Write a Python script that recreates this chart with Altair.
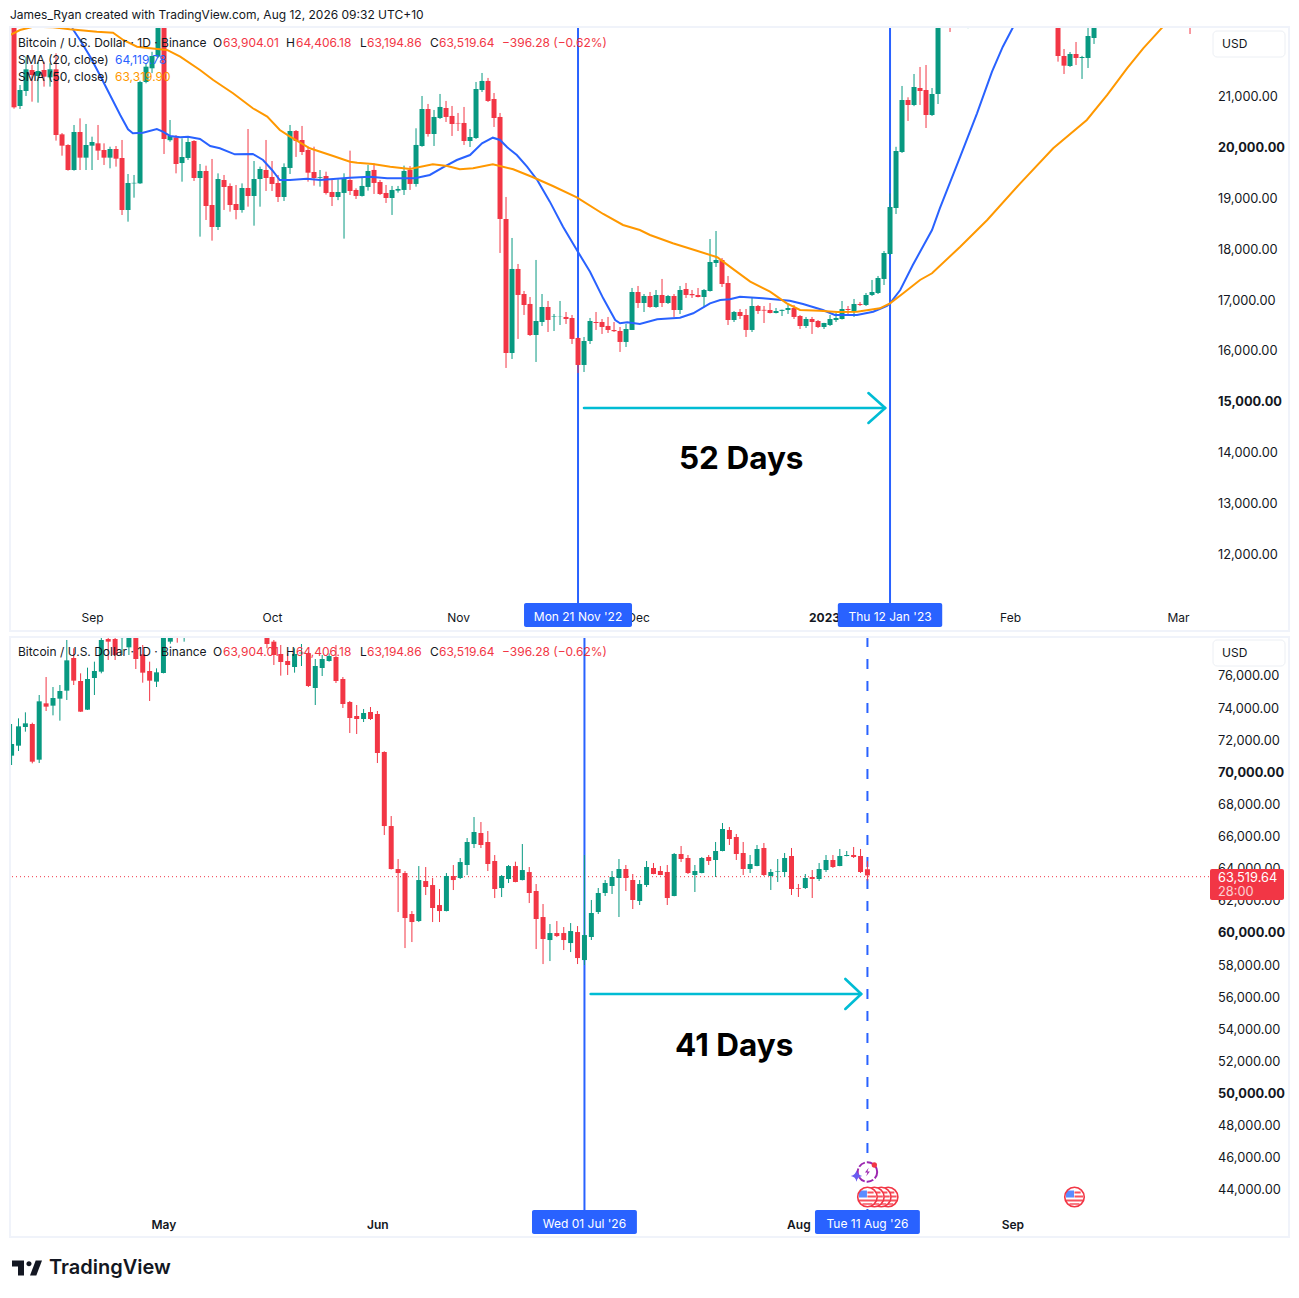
import altair as alt
import pandas as pd

FONT = "Inter"
GREEN, RED, BLUE, ORANGE, CYAN, INK = "#089981", "#f23645", "#2962ff", "#ff9800", "#00bcd4", "#131722"

# rows are (open, high, low, close)
btc22_aug = [(23200,23250,20750,20777),(20803,21216,20744,21118),(21098,21774,21000,21525),(21512,21610,20888,21413),
 (21394,21676,20869,21492),(21512,21676,21184,21380),(21367,21643,21184,21525),(21525,21840,20121,20232),
 (20245,20270,19825,20022),(20035,20050,19530,19543),(19543,20429,19530,20291),(20291,20560,19543,19786),(19786,20449,19543,20035)]
btc22_sep = [(20022,20199,19543,20094),(20068,20429,19740,19924),(19937,20068,19642,19786),(19786,20002,19576,19957),
 (19957,20015,19609,19766),(19779,20134,18657,18756),(18756,19464,18526,19287),(19280,19445,18998,19290),
 (19280,21300,19270,21275),(21275,21650,21250,21577),(21545,21870,21450,21787),(21774,22800,21750,22400),
 (22400,22800,19858,20153),(20130,20527,20100,20212),(20186,20230,19477,19661),(19680,20167,19313,19799),
 (19779,20199,19740,20094),(20114,20130,19327,19386),(19386,19661,18231,19523),(19523,19628,18559,18834),
 (18854,19760,18152,18421),(18421,19477,18362,19366),(19346,19445,18756,19208),(19228,19280,18723,18854),
 (18874,19248,18572,18756),(18756,19280,18703,19189),(19189,20350,18821,19031),(19031,19720,18447,19366),
 (19366,19609,18821,19563),(19543,20134,19130,19386)]
btc22_oct = [(19405,19720,19130,19268),(19287,19445,18913,19012),(19012,19674,18933,19602),(19583,20429,19464,20311),
 (20311,20330,19800,20114),(20134,20410,19838,19897),(19937,20002,19313,19490),(19504,20002,19235,19386),
 (19390,19543,19215,19405),(19425,19510,19060,19090),(19110,19360,18834,19012),(19012,19360,18950,19110),
 (19091,19478,18192,19366),(19347,19924,19051,19130),(19150,19183,18973,19032),(19032,19399,19020,19229),
 (19209,19642,19137,19524),(19544,19675,19071,19288),(19307,19347,19051,19071),(19091,19248,18894,18992),
 (18992,19229,18658,19150),(19137,19229,19097,19170),(19150,19629,19051,19524),(19544,19620,19150,19268),
 (19268,20364,19215,20036),(20016,21000,20000,20744),(20744,20843,20200,20252),(20252,20725,20016,20587),
 (20567,21040,20548,20784),(20764,20902,20488,20587),(20607,20803,20213,20449)]
btc22_nov = [(20469,20666,20311,20459),(20469,20784,20036,20114),(20114,20351,19996,20193),(20173,21276,20154,21138),
 (21118,21453,21079,21296),(21296,21355,20882,20902),(20941,21059,20390,20567),(20587,20666,17910,18579),
 (18579,19012,15646,15941),(15941,18205,15823,17595),(17595,17693,16217,17083),(17102,17162,16689,16886),
 (16906,17043,16275,16295),(16295,17772,15764,16571),(16551,17102,16472,16846),(16846,16965,16354,16591),
 (16650,16709,16374,16660),(16650,16965,16492,16655),(16650,16748,16512,16610),(16630,16689,16118,16217),
 (16236,16250,15547,15705),(15705,16256,15567,16177),(16177,16630,16118,16571),(16551,16748,16394,16531),
 (16551,16610,16315,16453),(16473,16650,16335,16394),(16394,16551,16355,16370),(16374,16453,15961,16158),
 (16158,16512,16059,16413),(16394,17221,16394,17142)]
btc22_dec = [(17142,17260,16827,16925),(16925,17102,16748,17063),(17063,17142,16830,16846),(16846,17181,16830,17083),
 (17083,17398,16846,16925),(16925,17083,16905,17063),(17063,17102,16650,16787),(16787,17260,16708,17181),
 (17201,17319,17024,17083),(17102,17181,17024,17078),(17083,17220,17035,17043),(17043,17201,16846,17181),
 (17161,18185,17150,17732),(17712,18342,17634,17772),(17772,17811,17240,17299),(17319,17457,16492,16590),
 (16590,16768,16551,16748),(16748,16807,16610,16669),(16689,16807,16256,16394),(16394,17024,16354,16866),
 (16866,16886,16709,16768),(16790,16866,16531,16775),(16787,16925,16720,16728),(16728,16827,16720,16768),
 (16770,16795,16669,16790),(16787,16905,16709,16827),(16827,16886,16610,16650),(16669,16689,16413,16472),
 (16472,16650,16433,16610),(16610,16650,16315,16551),(16571,16590,16433,16453)]
btc23_jan = [(16453,16535,16413,16531),(16492,16689,16472,16610),(16590,16728,16551,16630),(16610,16964,16600,16807),
 (16807,16866,16709,16787),(16768,17004,16650,16905),(16905,16945,16866,16886),(16886,17122,16866,17083),
 (17083,17378,17063,17142),(17122,17457,17102,17417),(17398,17949,17279,17909),(17889,19080,17870,18815),
 (18795,20000,18677,19917),(19897,21197,19878,20921),(20921,20974,20508,20823),(20823,21433,20800,21177),
 (21157,21571,20823,21098),(21118,21610,20370,20626),(20626,21157,20606,21039),(21039,22800,20842,22700)]
btc23_jan22 = [(22780,23000,22260,22700)]
btc23_jan25 = [(22600,23800,22335,23050)]
btc23_feb = [(22960,23000,21676,21787),(21787,21925,21433,21597),(21590,21866,21571,21827),(21827,22063,21610,21748),
 (21748,21790,21335,21768),(21748,22340,21551,22181),(22142,24300,22024,24000)]
btc23_mar = [(23470,23500,22220,22500),(22500,22600,22350,22400)]

sma20_day = [9.7,11,12.7,14.3,16,17.7,19,19.8,21.5,23.8,24.8,26,27.7,29,31,32.7,34.3,36.8,39.8,41.5,43,44.3,46,48.8,51,53.2,56,59.3,62.2,66.8,69.3,71.5,73.8,76,78,79.8,81,82.2,83.8,85.5,87.2,89.3,91.5,93.8,96,98.2,100.2,101,102.2,104.3,107.2,111,113.2,116,117.7,119.3,121,124.8,129.3,131.5,134.8,136.8,140.5,143.2,145.5,146,147.7,149.8,153,154.3,157.7,160.5,163,164.8,166.5,167.7]
sma20_val = [22333,22102,21774,21413,21020,20626,20344,20266,20278,20350,20297,20213,20187,20199,20154,20016,19970,19852,19858,19740,19543,19346,19346,19372,19346,19366,19392,19412,19380,19380,19445,19596,19740,19838,20069,20179,20134,19990,19838,19608,19346,18920,18427,17968,17541,17017,16590,16525,16545,16512,16604,16636,16722,16919,16984,16998,17049,17017,16970,16905,16787,16689,16689,16754,16866,16919,17181,17673,18362,18789,19805,20659,21478,21970,22352,22500]
sma50_day = [-0.6,1,3.2,6.5,9.3,13.8,16.5,18.2,20.5,22.7,25.5,27.7,31,33.2,36.5,39.8,42.2,44.3,46,49.3,53.2,56,57.2,59.8,62.7,66,69.8,72.2,74.3,76.5,79.8,83.2,86.5,89.8,93.8,98.2,101.5,104.3,106,109.8,113.8,117.2,119.3,122.7,126,128.8,131,134.3,137.2,140.5,144.3,146,148.2,151,153,157.7,162.2,167.7,173.2,178.8,182.2,185.5,188.2,191.5,192.7]
sma50_val = [22201,22299,22364,22352,22313,22266,22246,22102,21970,21939,21906,21774,21512,21315,21053,20758,20593,20331,20199,19970,19819,19707,19687,19661,19608,19563,19655,19622,19557,19577,19655,19557,19400,19228,19006,18677,18461,18362,18264,18100,17955,17825,17640,17345,17148,16919,16787,16774,16748,16754,16821,16919,17116,17378,17510,18033,18559,19281,19970,20528,21020,21545,21939,22364,22496]

btc26_apr = [(70976,72948,70395,71702),(71599,73301,71267,72803),(72761,73675,72470,72990),(72948,73031,70498,70602),
 (70727,74754,70519,74360),(74235,75875,73758,74028),(74090,75252,73488,74567),(74526,75377,73156,75003),
 (75024,78180,74443,76913),(77059,77661,75377,75647),(75626,76104,73700,73716),(73841,76457,73820,75751),
 (75813,76830,74754,76249),(76207,78600,76104,78180),(78242,78500,76934,78076),(78242,78430,76934,77245),
 (78300,79500,77245,79000),(77723,78800,77245,78387),(78500,78900,76373,76996),(77287,77868,75522,76145),
 (76249,76830,74381,75647),(75585,76415,75252,76166)]
btc26_may_a = [(76124,78500,76100,78325),(78076,78600,77951,78387),(78430,78700,78013,78325),(78366,78700,78076,78430)]
btc26_may_b = [(78500,78800,77661,77930),(78076,78180,76623,77245),(77308,77868,75958,76809),(76872,77349,76000,76623),
 (76498,77661,76145,77308),(77350,77930,76560,77390),(77349,77450,75252,75315),(75190,76996,74131,76560),
 (76436,77245,75937,76996),(76872,77349,76830,77183),(77121,77868,75501,75626),(75751,75875,73945,74194),
 (74318,74380,72387,73322),(73446,74131,72325,73260),(73260,73883,73073,73633),(73695,74007,73197,73260)]
btc26_jun = [(73571,73758,70519,71142),(71204,71250,66035,66595),(66595,67218,63890,63917),(63917,64540,61239,63668),
 (63668,63790,58997,60866),(61115,61302,59371,60617),(60679,64104,60617,63232),(63170,64042,62298,62797),
 (62921,63357,60617,61489),(61675,62672,60617,61302),(61302,63668,61280,63482),(63482,64166,62610,63232),
 (63357,64602,63295,64353),(64167,65848,63544,65599),(65474,67156,65225,66222),(66160,66845,65225,65412),
 (65599,66284,63793,64229),(64416,64789,62111,62672),(62734,63544,62173,63482),(63295,64166,63046,64104),
 (64104,64375,63090,63108),(63232,65475,63210,63855),(63730,64042,61800,62423),(62548,62984,58935,60804),
 (60928,61738,58000,59558),(59496,60492,58187,59932),(59932,60679,59682,59745),(59932,60305,58873,59496),
 (59309,60554,58748,60056),(59994,60367,58000,58375)]
btc26_jul = [(58250,64789,57938,59807),(59684,61989,59498,61179),(61241,62736,61117,62425),(62425,63234,62238,63048),
 (62861,63795,62363,63421),(63359,64542,60930,63919),(63919,64169,62549,63359),(63234,63608,61428,61989),
 (61927,63234,61677,62985),(62923,64418,62798,64044),(63982,64293,63590,63608),(63795,64106,63530,63546),
 (63733,64169,61677,62113),(62238,64916,62220,64854),(64854,65352,64355,64542),(64604,64791,63608,63670),
 (63546,64169,62487,63795),(63670,64667,63650,64604),(64667,64791,64169,64418),(64480,65601,63421,65040),
 (65040,66784,65020,66411),(66348,66535,65414,65788),(65912,66099,64480,64854),(64916,65601,63546,63919),
 (63919,64791,63670,64231),(64106,65414,64090,65165),(65227,65539,63483,63546),(63483,63919,62612,63733),
 (63760,64542,63110,63795),(63733,64916,63421,64604),(64729,65227,62300,62674)]
btc26_aug = [(62736,62985,62176,62695),(62736,63608,62674,63359),(63421,63857,62113,63297),(63297,64293,63172,63919),
 (63857,64791,63733,64480),(64480,64791,63982,64044),(64106,65165,64090,64729),(64729,65040,64710,64791),
 (64791,65290,64605,64667),(64729,65165,63670,63733),(63904.01,64406.18,63194.86,63519.64)]

p1_ticks = [12000,13000,14000,15000,16000,17000,18000,19000,20000,21000]
p2_ticks = list(range(44000,76001,2000))
p1_months = ["2022-09-01","2022-10-01","2022-11-01","2022-12-01","2023-01-01","2023-02-01","2023-03-01"]
p2_months = ["2026-05-01","2026-06-01","2026-08-01","2026-09-01"]
flag_dates = ["2026-08-14","2026-08-13","2026-08-12","2026-08-11","2026-09-10"]


def iso(ts):
    return pd.Timestamp(ts).strftime("%Y-%m-%dT%H:%M:%SZ")


def ms(ts):
    return pd.Timestamp(ts).value / 1e6


def candles(segments):
    rows = []
    for start, seg in segments:
        for i, (o, h, l, c) in enumerate(seg):
            rows.append(dict(date=iso(pd.Timestamp(start) + pd.Timedelta(days=i)), o=o, h=h, l=l, c=c,
                             dir="up" if c >= o else "down"))
    return pd.DataFrame(rows)


def label(t, x, y, color=INK, size=12, weight=400, align="left", opacity=1):
    return alt.Chart(pd.DataFrame({"t": [t]})).mark_text(
        text=t, font=FONT, fontSize=size, fontWeight=weight, align=align, baseline="middle",
        color=color, clip=False, opacity=opacity).encode(x=alt.value(x), y=alt.value(y))


def chrome(full_h, legend_y, sma=True):
    L = [alt.Chart(pd.DataFrame({"a": [0]})).mark_rect(fill="white", stroke="#eceff4", strokeWidth=1, cornerRadius=4).encode(
            x=alt.value(1203), x2=alt.value(1275), y=alt.value(legend_y - 12), y2=alt.value(legend_y + 14)),
         label("USD", 1212, legend_y + 1, size=12),
         alt.Chart(pd.DataFrame({"a": [0]})).mark_rect(fillOpacity=0, stroke="#f0f3fa", strokeWidth=2).encode(
            x=alt.value(0), x2=alt.value(1279), y=alt.value(0), y2=alt.value(full_h))]
    ly = legend_y
    L += [label("Bitcoin / U.S. Dollar · 1D · Binance", 8, ly), label("O", 203, ly), label("63,904.01", 213, ly, RED),
          label("H", 276, ly), label("64,406.18", 286, ly, RED), label("L", 350, ly), label("63,194.86", 357, ly, RED),
          label("C", 420, ly), label("63,519.64", 429, ly, RED), label("−396.28 (−0.62%)", 492, ly, RED)]
    if sma:
        L += [label("SMA (20, close)", 8, ly + 17), label("64,119.78", 105, ly + 17, BLUE),
              label("SMA (50, close)", 8, ly + 34), label("63,319.90", 105, ly + 34, ORANGE)]
    return L


def panel(left, right, y_dom, ticks, bold_mod, months, bold_expr, x_pad):
    xax = alt.Axis(values=[ms(m) for m in months], title=None, domain=False, ticks=False, grid=False, labelFont=FONT,
                   labelFontSize=12, labelColor=INK, labelPadding=x_pad, labelOverlap=False, labelFlush=False,
                   labelExpr="utcmonth(datum.value)==0 ? utcyear(datum.value)+'' : utcFormat(datum.value,'%b')",
                   labelFontWeight={"expr": bold_expr})
    yax = alt.Axis(values=ticks, orient="right", title=None, domain=False, ticks=False, grid=False, format=",.2f",
                   labelFont=FONT, labelFontSize=12.8, labelColor=INK, labelPadding=8.5, labelOverlap=False, labelOffset=1,
                   labelFontWeight={"expr": f"datum.value % {bold_mod} == 0 ? 'bold' : 'normal'"})
    xs = alt.Scale(type="utc", domain=[ms(left), ms(right)], nice=False, padding=0)
    ys = alt.Scale(domain=y_dom, nice=False, zero=False)

    def X(field="date"):
        return alt.X(f"{field}:T", scale=xs, axis=xax, title=None)

    def Y(field):
        return alt.Y(f"{field}:Q", scale=ys, axis=yax, title=None)

    return X, Y


def candle_layers(df, X, Y):
    col = alt.Color("dir:N", scale=alt.Scale(domain=["up", "down"], range=[GREEN, RED]), legend=None)
    wick = alt.Chart(df).mark_rule(strokeWidth=1, clip=True).encode(x=X(), y=Y("l"), y2="h:Q", color=col)
    body = alt.Chart(df).mark_bar(size=5, clip=True).encode(x=X(), y=Y("o"), y2="c:Q", color=col)
    return [wick, body]


def vline(date, X, dash=None):
    kw = dict(strokeDash=dash) if dash else {}
    return alt.Chart(pd.DataFrame({"date": [iso(date)]})).mark_rule(color=BLUE, strokeWidth=2, clip=True, **kw).encode(x=X())


def sma_line(base, days, vals, color, X, Y):
    d = pd.DataFrame({"date": [iso(pd.Timestamp(base) + pd.Timedelta(days=x)) for x in days], "v": vals})
    return alt.Chart(d).mark_line(color=color, strokeWidth=2, clip=True).encode(x=X(), y=Y("v"))


def arrow(base, days, vals, parts, X, Y):
    d = pd.DataFrame({"date": [iso(pd.Timestamp(base) + pd.Timedelta(days=x)) for x in days], "v": vals, "p": parts,
                      "i": list(range(len(days)))})
    return alt.Chart(d).mark_line(color=CYAN, strokeWidth=2.6, strokeCap="round", strokeJoin="round").encode(
        x=X(), y=Y("v"), detail="p:N", order="i:Q")


def date_box(date, half_days, text, X, top, bottom):
    d = pd.Timestamp(date)
    df = pd.DataFrame({"date": [iso(d - pd.Timedelta(days=half_days))], "date2": [iso(d + pd.Timedelta(days=half_days))],
                       "mid": [iso(d)]})
    box = alt.Chart(df).mark_rect(color=BLUE, cornerRadius=2).encode(
        x=X(), x2="date2:T", y=alt.value(top), y2=alt.value(bottom))
    txt = alt.Chart(df).mark_text(text=text, color="white", font=FONT, fontSize=12).encode(
        x=X("mid"), y=alt.value((top + bottom) / 2 + 2))
    return [box, txt]


def days_label(date, text, price, X, Y):
    return alt.Chart(pd.DataFrame({"date": [iso(date)], "v": [price]})).mark_text(
        text=text, font=FONT, fontSize=31.5, fontWeight=700, color="#000000").encode(x=X(), y=Y("v"))


W = 1199
# ---------- top panel ----------
df1 = candles([("2022-08-19", btc22_aug + btc22_sep + btc22_oct + btc22_nov + btc22_dec + btc23_jan),
               ("2023-01-22", btc23_jan22), ("2023-01-25", btc23_jan25), ("2023-02-09", btc23_feb), ("2023-03-03", btc23_mar)])
left1 = pd.Timestamp("2022-11-21") - pd.Timedelta(days=94.67)
right1 = left1 + pd.Timedelta(days=W / 6)
X1, Y1 = panel(left1, right1, [10980, 22358], p1_ticks, 5000, p1_months,
               "utcmonth(datum.value)==0 ? 'bold' : 'normal'", 7)
a1_days = [1, 51.2, 48.4, 51.2, 48.4]
a1_vals = [14858, 14858, 15153, 14858, 14563]
a_parts = ["s", "s", "h", "h", "h"]
top = alt.layer(
    vline("2022-11-21", X1), vline("2023-01-12", X1), *candle_layers(df1, X1, Y1),
    sma_line("2022-08-19", sma20_day, sma20_val, BLUE, X1, Y1),
    sma_line("2022-08-19", sma50_day, sma50_val, ORANGE, X1, Y1),
    arrow("2022-11-21", a1_days, a1_vals, a_parts, X1, Y1),
    days_label(pd.Timestamp("2022-11-21") + pd.Timedelta(days=27.2), "52 Days", 13840, X1, Y1),
    *date_box("2022-11-21", 9, "Mon 21 Nov '22", X1, 576, 600),
    *date_box("2023-01-12", 8.7, "Thu 12 Jan '23", X1, 576, 600),
    *chrome(604, 16),
    label("James_Ryan created with TradingView.com, Aug 12, 2026 09:32 UTC+10", 0, -12, size=12),
).properties(width=W, height=578)

# ---------- bottom panel ----------
df2 = candles([("2026-04-09", btc26_apr), ("2026-05-01", btc26_may_a),
               ("2026-05-16", btc26_may_b + btc26_jun + btc26_jul + btc26_aug)])
left2 = pd.Timestamp("2026-07-01") - pd.Timedelta(days=83.23)
right2 = left2 + pd.Timedelta(days=W / 6.902)
X2, Y2 = panel(left2, right2, [42623, 78366], p2_ticks, 10000, p2_months, "'600'", 8)
a2_days = [0.9, 40.1, 37.8, 40.1, 37.8]
a2_vals = [56136, 56136, 57070, 56136, 55202]
last_price = pd.DataFrame({"v": [63440]})
price_line = alt.Chart(last_price).mark_rule(color=RED, strokeWidth=1, strokeDash=[1, 3], clip=True).encode(y=Y2("v"))

TV_T = "M-1,-0.5H-0.2V0.5H-0.6V-0.1H-1Z"
TV_S = "M0.2,0.5L0.58,-0.5H1L0.62,0.5Z"
TV_D = "M-0.04,-0.28A0.17,0.17 0 1 0 0.3,-0.28A0.17,0.17 0 1 0 -0.04,-0.28Z"
STRIPES = "M0,-0.55H0.62V-0.35H0ZM0,-0.15H0.85V0.05H0ZM-0.85,0.25H0.85V0.45H-0.85ZM-0.5,0.62H0.5V0.78H-0.5Z"
CANTON = "M-0.72,-0.65H-0.05V0.05H-0.85V-0.35Z"
BOLT = "M0.2,-0.7L-0.4,0.1H0L-0.2,0.7L0.4,-0.1H0Z"
STAR = "M0,-1Q0.15,-0.15 1,0Q0.15,0.15 0,1Q-0.15,0.15 -1,0Q-0.15,-0.15 0,-1Z"


def pt(date, y, shape, size, **kw):
    return alt.Chart(pd.DataFrame({"date": [iso(date)]})).mark_point(shape=shape, size=size, clip=False, **kw).encode(
        x=X2(), y=alt.value(y))


icons = []
ICON_Y = 560
for fd in flag_dates:
    icons += [pt(fd, ICON_Y, "circle", 400, filled=True, color="white", opacity=1),
              pt(fd, ICON_Y, STRIPES, 400, filled=True, color="#f7525f", opacity=1),
              pt(fd, ICON_Y, CANTON, 400, filled=True, color="#5b8cff", opacity=1),
              pt(fd, ICON_Y, "circle", 380, filled=False, color=RED, strokeWidth=1.6, opacity=1)]
icons += [pt("2026-08-11", 535, "circle", 400, filled=True, color="white", opacity=1),
          pt("2026-08-11", 535, "circle", 380, filled=False, color="#9c27b0", strokeWidth=2, strokeDash=[7, 2], opacity=1),
          pt("2026-08-11", 535, BOLT, 150, filled=True, color="#9c27b0", opacity=1),
          pt("2026-08-12", 528, "circle", 28, filled=True, color=RED, opacity=1),
          pt("2026-08-09T10:00:00", 539, STAR, 130, filled=True, color="#6a5cf0", opacity=1)]

logo_x, logo_y = 17, 631
logo = [alt.Chart(pd.DataFrame({"a": [0]})).mark_point(shape=s, size=900, filled=True, color=INK, opacity=1, clip=False).encode(
            x=alt.value(logo_x), y=alt.value(logo_y)) for s in (TV_T, TV_S, TV_D)]

tag = [alt.Chart(pd.DataFrame({"a": [0]})).mark_rect(color=RED, cornerRadius=2).encode(
           x=alt.value(1200), x2=alt.value(1274), y=alt.value(232), y2=alt.value(263)),
       label("63,519.64", 1208, 240.5, color="white", size=12.8),
       label("28:00", 1208, 254.5, color="white", size=12.8, opacity=0.75)]

bottom = alt.layer(
    price_line, vline("2026-07-01", X2), vline("2026-08-11", X2, dash=[10, 12]), *candle_layers(df2, X2, Y2),
    arrow("2026-07-01", a2_days, a2_vals, a_parts, X2, Y2),
    days_label(pd.Timestamp("2026-07-01") + pd.Timedelta(days=21.7), "41 Days", 52835, X2, Y2),
    *date_box("2026-07-01", 7.6, "Wed 01 Jul '26", X2, 573, 597),
    *date_box("2026-08-11", 7.6, "Tue 11 Aug '26", X2, 573, 597),
    *icons, *tag, *chrome(600, 15, sma=False),
    label("TradingView", 39, 631, size=20, weight=600), *logo,
).properties(width=W, height=574)

chart = alt.vconcat(top, bottom, spacing=32, bounds="flush").resolve_scale(x="independent", y="independent", color="independent").configure_view(stroke=None).properties(
    padding={"left": 1, "top": 1, "right": 0, "bottom": 0}, background="white")

chart.save("out.html", embed_options={"renderer": "svg", "actions": False})
